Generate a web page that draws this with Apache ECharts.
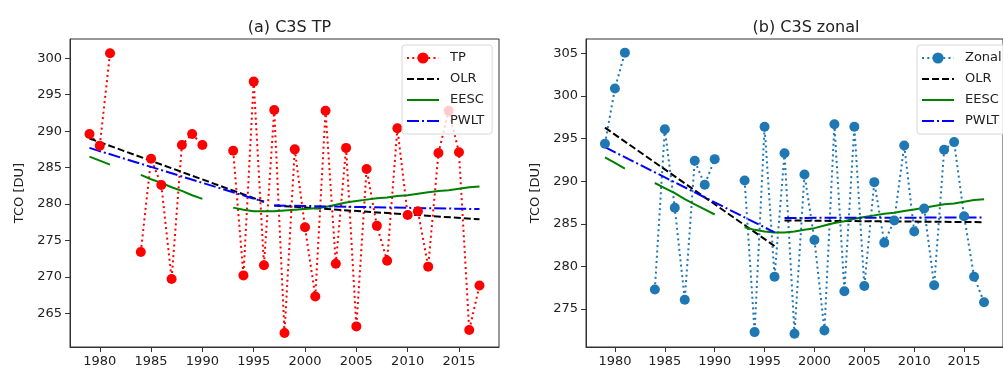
<!DOCTYPE html>
<html>
<head>
<meta charset="utf-8">
<script src="https://cdn.jsdelivr.net/npm/echarts@6/dist/echarts.min.js"></script>
<style>
  html, body { margin: 0; padding: 0; background: #fff; overflow: hidden; }
  #chart { width: 1003px; height: 372px; }
</style>
</head>
<body>
<div id="chart"></div>
<script>
// years of the record, null = no data that year
const years = [1979, 1980, 1981, 1982, 1983, 1984, 1985, 1986, 1987, 1988, 1989, 1990,
  1991, 1992, 1993, 1994, 1995, 1996, 1997, 1998, 1999, 2000, 2001, 2002, 2003, 2004,
  2005, 2006, 2007, 2008, 2009, 2010, 2011, 2012, 2013, 2014, 2015, 2016, 2017]

// (a) C3S TP
const tp = [289.6, 288.0, 300.7, null, null, 273.4, 286.2, 282.6, 269.7, 288.1, 289.6, 288.1,
  null, null, 287.3, 270.2, 296.8, 271.6, 292.9, 262.3, 287.5, 276.8, 267.3, 292.8, 271.8, 287.7,
  263.2, 284.8, 277.0, 272.2, 290.4, 278.5, 279.0, 271.4, 287.0, 292.8, 287.1, 262.7, 268.8]
const eescTP = [286.5, 285.95, 285.4, null, null, 284.0, 283.4, 282.9, 282.3, 281.8, 281.2, 280.7,
  null, null, 279.5, 279.2, 279.0, 279.0, 279.0, 279.1, 279.2, 279.3, 279.4, 279.6, 279.9, 280.2,
  280.4, 280.6, 280.8, 280.9, 281.1, 281.2, 281.4, 281.6, 281.8, 281.9, 282.1, 282.3, 282.4]
const olrTP = [[1979, 289.0], [1996, 280.3], null, [1997, 279.8], [2017, 277.9]]
const pwltTP = [[1979, 287.7], [1996, 280.3], null, [1997, 279.8], [2017, 279.3]]

// (b) C3S zonal
const zonal = [294.4, 300.9, 305.1, null, null, 277.3, 296.1, 286.9, 276.1, 292.4, 289.6, 292.6,
  null, null, 290.1, 272.3, 296.4, 278.8, 293.3, 272.1, 290.8, 283.1, 272.5, 296.7, 277.1, 296.4,
  277.7, 289.9, 282.8, 285.4, 294.2, 284.1, 286.8, 277.8, 293.7, 294.6, 285.9, 278.8, 275.8]
const eescZonal = [292.8, 292.15, 291.5, null, null, 289.8, 289.2, 288.6, 287.9, 287.3, 286.7, 286.1,
  null, null, 284.6, 284.3, 284.1, 284.0, 284.0, 284.1, 284.3, 284.5, 284.8, 285.1, 285.3, 285.6,
  285.8, 286.0, 286.2, 286.3, 286.5, 286.7, 286.9, 287.1, 287.3, 287.4, 287.6, 287.8, 287.9]
const olrZonal = [[1979, 296.3], [1996, 282.4], null, [1997, 285.4], [2017, 285.2]]
const pwltZonal = [[1979, 294.0], [1996, 284.0], null, [1997, 285.7], [2017, 285.75]]

// tick labels
const xTicks = [1980, 1985, 1990, 1995, 2000, 2005, 2010, 2015]
const yTicksTP = [265, 270, 275, 280, 285, 290, 295, 300]
const yTicksZonal = [275, 280, 285, 290, 295, 300, 305]

const FONT = 'DejaVu Sans'
const GAP = ['-', '-']

const byYear = (vals) => years.map((y, i) => [y, vals[i] == null ? '-' : vals[i]])
const segs = (pts) => pts.map((p) => (p == null ? GAP : p))

const chart = echarts.init(document.getElementById('chart'), null, { renderer: 'canvas' })

const grids = [
  { left: 70, right: 504, top: 39, bottom: 25 },
  { left: 586, right: -13, top: 39, bottom: 25 },
]

const xAxisFor = (idx) => ({
  type: 'value',
  gridIndex: idx,
  min: 1977.1,
  max: 2018.9,
  splitLine: { show: false },
  axisLine: { lineStyle: { color: '#333', width: 1 } },
  axisTick: { customValues: xTicks, length: 5, lineStyle: { color: '#333' } },
  axisLabel: {
    customValues: xTicks, color: '#222', fontFamily: FONT, fontSize: 13, margin: 8,
    formatter: (v) => String(v),
  },
})

const yAxisFor = (idx, min, max, ticks) => ({
  type: 'value',
  gridIndex: idx,
  min: min,
  max: max,
  name: 'TCO [DU]',
  nameLocation: 'middle',
  nameGap: 44,
  nameTextStyle: { color: '#222', fontFamily: FONT, fontSize: 13 },
  splitLine: { show: false },
  axisLine: { show: true, lineStyle: { color: '#333', width: 1 } },
  axisTick: { show: true, customValues: ticks, length: 5, lineStyle: { color: '#333' } },
  axisLabel: {
    customValues: ticks, color: '#222', fontFamily: FONT, fontSize: 13, margin: 8,
    formatter: (v) => String(v),
  },
})

// trend lines carry no marker, so hide the legend symbol for them
const noMark = (name) => ({ name: name, itemStyle: { opacity: 0 } })

const legendFor = (left, first) => ({
  left: left,
  top: 45,
  orient: 'vertical',
  data: [first, noMark('OLR'), noMark('EESC'), noMark('PWLT')],
  itemWidth: 32,
  itemHeight: 14,
  itemGap: 7,
  padding: [6, 8, 6, 4],
  backgroundColor: 'rgba(255,255,255,0.8)',
  borderColor: '#d8d8d8',
  borderWidth: 1,
  borderRadius: 3,
  textStyle: { color: '#222', fontFamily: FONT, fontSize: 13, lineHeight: 14, padding: [0, 0, 0, 6] },
})

const trendSeries = (idx, olr, eesc, pwlt) => [
  {
    name: 'OLR', type: 'line', xAxisIndex: idx, yAxisIndex: idx,
    data: segs(olr), showSymbol: false, symbol: 'none', connectNulls: false,
    lineStyle: { color: '#000', width: 2, type: [7, 3] }, itemStyle: { color: '#000' },
  },
  {
    name: 'EESC', type: 'line', xAxisIndex: idx, yAxisIndex: idx,
    data: byYear(eesc), showSymbol: false, symbol: 'none', connectNulls: false,
    lineStyle: { color: '#008000', width: 2 }, itemStyle: { color: '#008000' },
  },
  {
    name: 'PWLT', type: 'line', xAxisIndex: idx, yAxisIndex: idx,
    data: segs(pwlt), showSymbol: false, symbol: 'none', connectNulls: false,
    lineStyle: { color: '#0000ff', width: 2, type: [12, 3, 2, 3] }, itemStyle: { color: '#0000ff' },
  },
]

const option = {
  animation: false,
  title: [
    { text: '(a) C3S TP', left: 284.5, top: 15, textAlign: 'center',
      textStyle: { fontFamily: FONT, fontSize: 16, fontWeight: 'normal', color: '#222' } },
    { text: '(b) C3S zonal', left: 801, top: 15, textAlign: 'center',
      textStyle: { fontFamily: FONT, fontSize: 16, fontWeight: 'normal', color: '#222' } },
  ],
  grid: grids.map((g) => ({ ...g, show: true, borderColor: '#333', borderWidth: 1, backgroundColor: 'transparent' })),
  xAxis: [xAxisFor(0), xAxisFor(1)],
  yAxis: [
    yAxisFor(0, 260.37, 302.65, yTicksTP),
    yAxisFor(1, 270.55, 306.7, yTicksZonal),
  ],
  legend: [
    legendFor(402, 'TP'),
    legendFor(917, 'Zonal'),
  ],
  series: [
    {
      name: 'TP', type: 'line', xAxisIndex: 0, yAxisIndex: 0,
      data: byYear(tp), symbol: 'circle', symbolSize: 10, connectNulls: false,
      lineStyle: { color: '#ff0000', width: 2, type: [2, 3.3] }, itemStyle: { color: '#ff0000' },
    },
    ...trendSeries(0, olrTP, eescTP, pwltTP),
    {
      name: 'Zonal', type: 'line', xAxisIndex: 1, yAxisIndex: 1,
      data: byYear(zonal), symbol: 'circle', symbolSize: 10, connectNulls: false,
      lineStyle: { color: '#1f77b4', width: 2, type: [2, 3.3] }, itemStyle: { color: '#1f77b4' },
    },
    ...trendSeries(1, olrZonal, eescZonal, pwltZonal),
  ],
}

chart.setOption(option)
</script>
</body>
</html>
